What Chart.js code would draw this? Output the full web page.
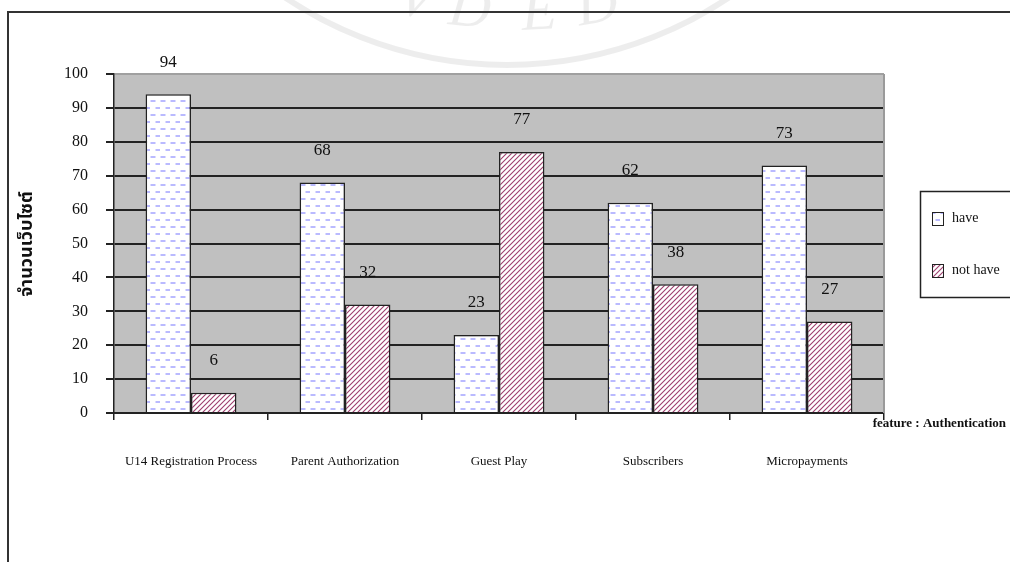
<!DOCTYPE html>
<html>
<head>
<meta charset="utf-8">
<script src="https://cdn.jsdelivr.net/npm/chart.js@4.4.1/dist/chart.umd.min.js"></script>
<style>
  html, body { margin: 0; padding: 0; background: #fff; }
  canvas { display: block; }
</style>
</head>
<body>
<canvas id="myChart" width="1010" height="562"></canvas>
<script>
// Data
const categories = ['U14 Registration Process', 'Parent Authorization', 'Guest Play', 'Subscribers', 'Micropayments'];
const seriesNames = ['have', 'not have'];
const haveValues = [94, 68, 23, 62, 73];
const notHaveValues = [6, 32, 77, 38, 27];
const yTicks = [0, 10, 20, 30, 40, 50, 60, 70, 80, 90, 100];
const yTitle = 'จำนวนเว็บไซต์';
const xTitle = 'feature : Authentication';

const SERIF = '"Liberation Serif", "Times New Roman", serif';

// Fill patterns for the bars
function dashPattern() {
    const c = document.createElement('canvas');
    c.width = 10; c.height = 14;
    const g = c.getContext('2d');
    g.fillStyle = '#fff';
    g.fillRect(0, 0, 10, 14);
    g.strokeStyle = '#a4a4ff';
    g.lineWidth = 1.6;
    g.beginPath();
    g.moveTo(0.5, 3); g.lineTo(5.5, 3);
    g.moveTo(5.5, 10); g.lineTo(10.5, 10);
    g.stroke();
    return g.createPattern(c, 'repeat');
}

function hatchPattern() {
    const s = 5;
    const c = document.createElement('canvas');
    c.width = s; c.height = s;
    const g = c.getContext('2d');
    g.fillStyle = '#fff';
    g.fillRect(0, 0, s, s);
    g.strokeStyle = '#9e3f6e';
    g.lineWidth = 1.1;
    g.beginPath();
    g.moveTo(0, s); g.lineTo(s, 0);
    g.moveTo(-1, 1); g.lineTo(1, -1);
    g.moveTo(s - 1, s + 1); g.lineTo(s + 1, s - 1);
    g.stroke();
    return g.createPattern(c, 'repeat');
}

const haveFill = dashPattern();
const notHaveFill = hatchPattern();

// Grey plot background + watermark + frame
const backdrop = {
    id: 'backdrop',
    beforeDraw(chart) {
        const { ctx, chartArea: a } = chart;
        ctx.save();
        // faint seal watermark
        ctx.strokeStyle = 'rgba(0,0,0,0.07)';
        ctx.lineWidth = 6;
        ctx.beginPath();
        ctx.arc(507, -333, 398, 0, Math.PI);
        ctx.stroke();
        ctx.fillStyle = 'rgba(0,0,0,0.07)';
        ctx.font = 'italic 58px ' + SERIF;
        ctx.textAlign = 'center';
        const letters = [['V', 412, 16, 0.22], ['D', 468, 26, 0.1], ['E', 540, 29, -0.05], ['D', 600, 22, -0.18]];
        letters.forEach(([ch, x, y, r]) => {
            ctx.save();
            ctx.translate(x, y);
            ctx.rotate(r);
            ctx.fillText(ch, 0, 0);
            ctx.restore();
        });
        // plot area
        ctx.fillStyle = '#c0c0c0';
        ctx.fillRect(a.left, a.top, a.right - a.left, a.bottom - a.top);
        ctx.restore();
    },
    afterDraw(chart) {
        const { ctx, chartArea: a } = chart;
        ctx.save();
        // right edge of plot
        ctx.strokeStyle = '#9a9a9a';
        ctx.lineWidth = 2;
        ctx.beginPath();
        ctx.moveTo(a.right, a.top);
        ctx.lineTo(a.right, a.bottom);
        ctx.stroke();
        // outer frame
        ctx.strokeStyle = '#333';
        ctx.lineWidth = 2;
        ctx.beginPath();
        ctx.moveTo(1010, 12);
        ctx.lineTo(8, 12);
        ctx.lineTo(8, 562);
        ctx.stroke();

        // axis titles
        ctx.fillStyle = '#111';
        ctx.font = 'bold 13px ' + SERIF;
        ctx.textAlign = 'right';
        ctx.textBaseline = 'middle';
        ctx.fillText(xTitle, 1006, 424);
        ctx.save();
        ctx.translate(28, 244);
        ctx.rotate(-Math.PI / 2);
        ctx.textAlign = 'center';
        ctx.font = 'bold 18px "Noto Sans Thai", "Loma", "Garuda", "Norasi", sans-serif';
        ctx.fillText(yTitle, 0, 0);
        ctx.restore();

        // legend
        ctx.strokeStyle = '#222';
        ctx.lineWidth = 1.5;
        ctx.strokeRect(920.5, 191.5, 100, 106);
        const fills = [haveFill, notHaveFill];
        const rows = [218, 270];
        ctx.font = '14px ' + SERIF;
        ctx.textAlign = 'left';
        chart.data.datasets.forEach((ds, i) => {
            ctx.fillStyle = fills[i];
            ctx.fillRect(932, rows[i] - 6, 11, 13);
            ctx.lineWidth = 1;
            ctx.strokeRect(932.5, rows[i] - 5.5, 11, 13);
            ctx.fillStyle = '#111';
            ctx.fillText(ds.label, 952, rows[i]);
        });
        ctx.restore();
    }
};

// Values above bars
const valueLabels = {
    id: 'valueLabels',
    afterDatasetsDraw(chart) {
        const ctx = chart.ctx;
        ctx.save();
        ctx.font = '17px ' + SERIF;
        ctx.fillStyle = '#111';
        ctx.textAlign = 'center';
        ctx.textBaseline = 'middle';
        chart.data.datasets.forEach((ds, i) => {
            chart.getDatasetMeta(i).data.forEach((bar, j) => {
                ctx.fillText(ds.data[j], bar.x, bar.y - 32);
            });
        });
        ctx.restore();
    }
};

const canvas = document.getElementById('myChart');
const myChart = new Chart(canvas, {
    type: 'bar',
    data: {
        labels: categories,
        datasets: [{
            label: seriesNames[0],
            data: haveValues,
            backgroundColor: haveFill,
            borderColor: '#222',
            borderWidth: 1.5
        }, {
            label: seriesNames[1],
            data: notHaveValues,
            backgroundColor: notHaveFill,
            borderColor: '#222',
            borderWidth: 1.5
        }]
    },
    options: {
        responsive: false,
        animation: false,
        events: [],
        datasets: {
            bar: { categoryPercentage: 0.59, barPercentage: 1.0 }
        },
        layout: { padding: { left: 0, top: 74, right: 126, bottom: 0 } },
        plugins: {
            legend: { display: false },
            tooltip: { enabled: false }
        },
        scales: {
            x: {
                afterFit: s => { s.height = 149; },
                grid: {
                    offset: true,
                    drawOnChartArea: false,
                    drawTicks: true,
                    tickLength: 7,
                    color: '#222',
                    lineWidth: 1.5
                },
                border: { display: true, color: '#222', width: 2 },
                ticks: {
                    padding: 34,
                    color: '#111',
                    font: { family: SERIF, size: 13 },
                    maxRotation: 0,
                    autoSkip: false
                }
            },
            y: {
                min: 0,
                max: 100,
                afterFit: s => { s.width = 114; },
                afterBuildTicks: s => { s.ticks = yTicks.map(v => ({ value: v })); },
                grid: {
                    color: c => (c.tick && c.tick.value === 100) ? '#a0a0a0' : '#222',
                    tickColor: '#222',
                    lineWidth: 2,
                    drawTicks: true,
                    tickLength: 8
                },
                border: { display: true, color: '#222', width: 1.5 },
                ticks: {
                    padding: 18,
                    color: '#111',
                    font: { family: SERIF, size: 16 }
                }
            }
        }
    },
    plugins: [backdrop, valueLabels]
});
</script>
</body>
</html>
